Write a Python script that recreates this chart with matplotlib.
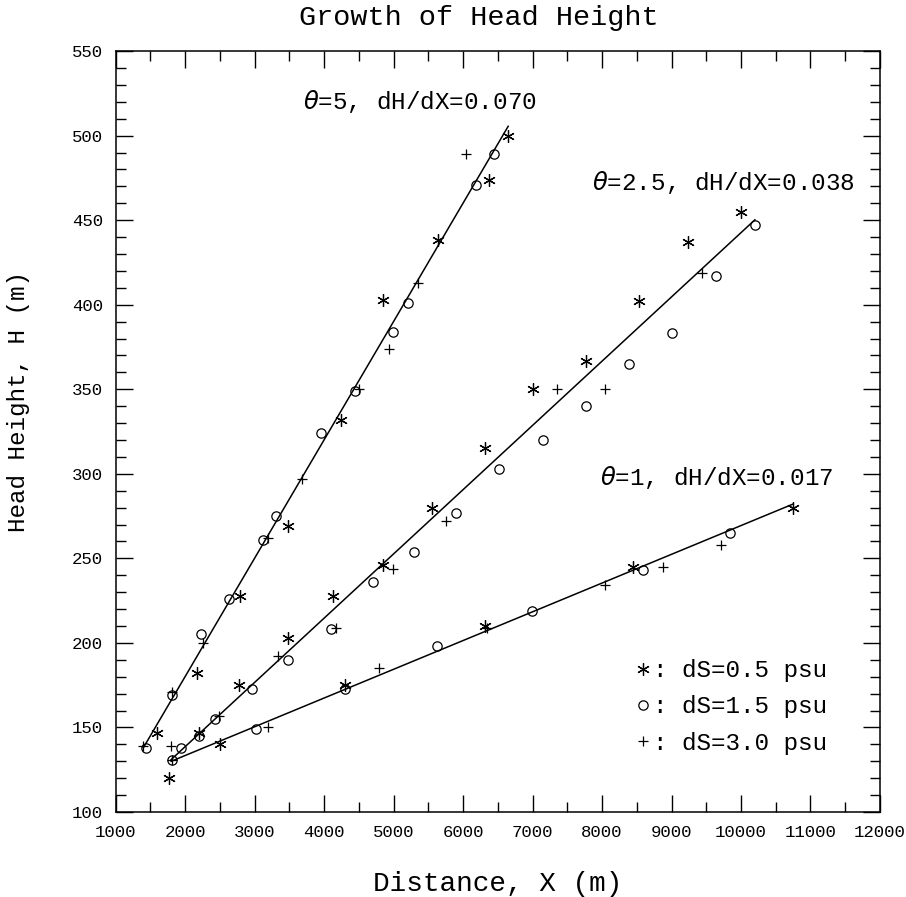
import matplotlib
matplotlib.use("Agg")
import matplotlib.pyplot as plt
import numpy as np
from matplotlib.ticker import MultipleLocator

plt.rcParams['font.family'] = ['Liberation Mono', 'DejaVu Sans']

# measured head heights, one array pair per salinity step (all three angles together)
x_ds05 = [1593, 2177, 2791, 3487, 4240, 4853, 5636, 6380, 6650,
          1774, 2201, 2781, 3487, 4125, 4853, 5550, 6317, 7003, 7770, 8534, 9233, 10000,
          2504, 4302, 6317, 8446, 10748]
h_ds05 = [147, 182, 228, 269, 332, 403, 438, 474, 500,
          120, 147, 175, 203, 228, 246, 280, 315, 350, 367, 402, 437, 455,
          140, 175, 210, 245, 280]

x_ds15 = [1435, 1808, 2226, 2638, 3118, 3309, 3957, 4446, 4997, 5213, 6183, 6450,
          1808, 1938, 2201, 2432, 2960, 3478, 4096, 4710, 5300, 5899, 6518, 7146, 7770,
          8389, 9008, 9640, 10201,
          3017, 4302, 5621, 6993, 8590, 9842]
h_ds15 = [138, 169, 205, 226, 261, 275, 324, 349, 384, 401, 471, 489,
          131, 138, 145, 155, 173, 190, 208, 236, 254, 277, 303, 320, 340,
          365, 383, 417, 447,
          149, 173, 198, 219, 243, 265]

x_ds30 = [1391, 1808, 2263, 3190, 3679, 4508, 4940, 5348, 6043,
          1808, 1799, 2494, 3343, 4173, 4997, 5755, 7355, 8043, 9434,
          3198, 4796, 6350, 8043, 8878, 9708]
h_ds30 = [139, 171, 200, 262, 297, 350, 374, 413, 489,
          131, 139, 157, 192, 209, 244, 272, 350, 350, 419,
          150, 185, 209, 234, 245, 258]

# fitted growth lines
theta = ['5', '2.5', '1']
slope = [0.070, 0.038, 0.017]
x_start = [1400, 1800, 1800]
h_start = [138, 131, 130]
x_end = [6650, 10200, 10750]
label_xy = [(3700, 520), (7850, 472), (7970, 298)]

fig = plt.figure(figsize=(9.06, 8.97), dpi=100)
ax = fig.add_axes([0.1275, 0.0947, 0.8438, 0.8484])

for k in range(3):
    xs = np.array([x_start[k], x_end[k]])
    ax.plot(xs, h_start[k] + slope[k] * (xs - x_start[k]), color='black', lw=1.1)
    ax.text(label_xy[k][0], label_xy[k][1],
            r'$\theta$=%s, dH/dX=%.3f' % (theta[k], slope[k]),
            fontsize=17.5, ha='left', va='center')

s1, = ax.plot(x_ds05, h_ds05, ls='none', marker=(6, 2, 0), ms=9, mew=0.9, color='black')
s2, = ax.plot(x_ds15, h_ds15, ls='none', marker='o', ms=6.7, mew=0.9, mfc='none', color='black')
s3, = ax.plot(x_ds30, h_ds30, ls='none', marker='+', ms=7.5, mew=0.9, color='black')

ax.legend([s1, s2, s3], [': dS=0.5 psu', ': dS=1.5 psu', ': dS=3.0 psu'],
          loc='upper left', bbox_to_anchor=(0.677, 0.201), frameon=False,
          fontsize=17.5, handlelength=0.8, handletextpad=0.0, borderpad=0,
          borderaxespad=0, labelspacing=0.55)

ax.set_xlim(1000, 12000)
ax.set_ylim(100, 550)
ax.xaxis.set_major_locator(MultipleLocator(1000))
ax.xaxis.set_minor_locator(MultipleLocator(500))
ax.yaxis.set_major_locator(MultipleLocator(50))
ax.yaxis.set_minor_locator(MultipleLocator(10))
ax.tick_params(which='both', direction='in', top=True, right=True, width=1)
ax.tick_params(which='major', length=12, labelsize=12.5, pad=9)
ax.tick_params(which='minor', length=7)
for sp in ax.spines.values():
    sp.set_linewidth(1.1)

ax.set_xlabel('Distance, X (m)', fontsize=20)
ax.set_ylabel('Head Height, H (m)', fontsize=17.5)
ax.xaxis.set_label_coords(0.5, -0.078)
ax.yaxis.set_label_coords(-0.112, 0.54)
fig.text(0.529, 0.98, 'Growth of Head Height', fontsize=20.5, ha='center', va='center')

plt.savefig('out.png')
